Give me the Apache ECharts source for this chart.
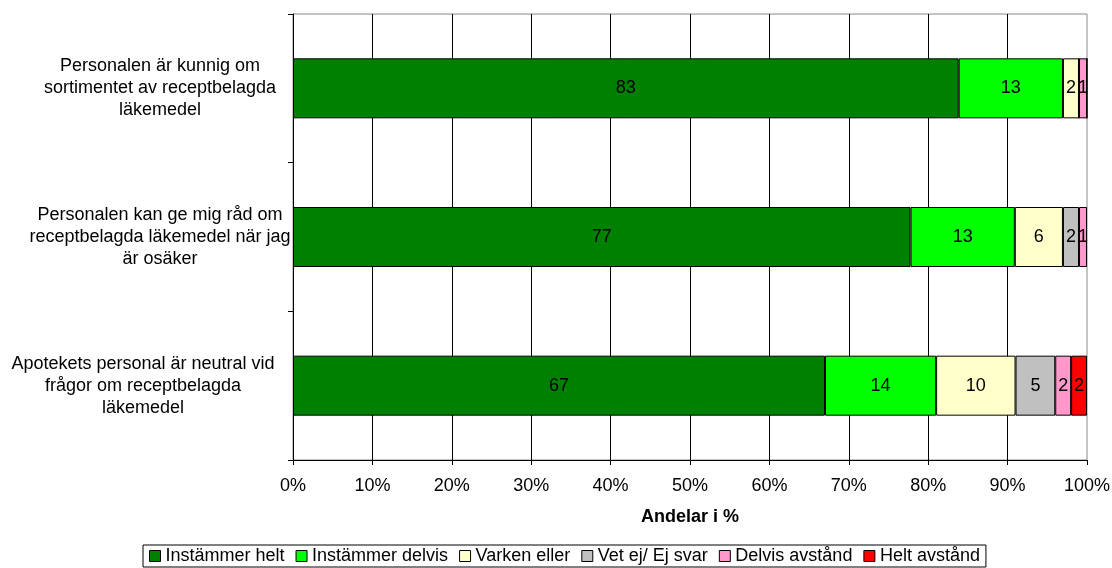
<!DOCTYPE html>
<html>
<head>
<meta charset="utf-8">
<script src="https://cdn.jsdelivr.net/npm/echarts@6/dist/echarts.min.js"></script>
<style>html,body{margin:0;padding:0;background:#fff;}#c{width:1112px;height:568px;}</style>
</head>
<body>
<div id="c"></div>
<script>
const categories = [
  "Personalen är kunnig om\nsortimentet av receptbelagda\nläkemedel",
  "Personalen kan ge mig råd om\nreceptbelagda läkemedel när jag\när osäker",
  "Apotekets personal är neutral vid\nfrågor om receptbelagda\nläkemedel"
];
const seriesNames = ["Instämmer helt", "Instämmer delvis", "Varken eller", "Vet ej/ Ej svar", "Delvis avstånd", "Helt avstånd"];
const instammerHelt = [83, 77, 67];
const instammerDelvis = [13, 13, 14];
const varkenEller = [2, 6, 10];
const vetEj = [0, 2, 5];
const delvisAvstand = [1, 1, 2];
const heltAvstand = [0, 0, 2];
const tickLabels = ["0%","10%","20%","30%","40%","50%","60%","70%","80%","90%","100%"];
const colors = ["#008000", "#00FF00", "#FFFFCC", "#C0C0C0", "#FF99CC", "#FF0000"];

const raw = [instammerHelt, instammerDelvis, varkenEller, vetEj, delvisAvstand, heltAvstand];
const totals = categories.map((_, i) => raw.reduce((s, arr) => s + arr[i], 0));

const font = "Liberation Sans, Arial, sans-serif";
const series = raw.map((arr, k) => ({
  name: seriesNames[k],
  type: 'bar',
  stack: 'total',
  barWidth: 60,
  itemStyle: { color: colors[k], borderColor: '#000', borderWidth: 1 },
  label: {
    show: true, position: 'inside', color: '#000', fontSize: 18, fontFamily: font,
    formatter: p => p.data.raw ? String(p.data.raw) : ''
  },
  emphasis: { disabled: true },
  data: arr.map((v, i) => ({ value: v / totals[i] * 100, raw: v }))
}));

// style key per category label (the last one is shifted left so it clears the axis)
const catStyles = ['n', 'n', 's'];

const chart = echarts.init(document.getElementById('c'), null, { renderer: 'canvas' });
chart.setOption({
  animation: false,
  backgroundColor: '#fff',
  grid: { left: 293, right: 25, top: 14, bottom: 108, containLabel: false, outerBoundsMode: 'none',
    show: true, borderColor: '#888', borderWidth: 1, backgroundColor: 'transparent' },
  xAxis: {
    type: 'value', min: 0, max: 100, interval: 10,
    axisLine: { show: true, lineStyle: { color: '#000', width: 1 } },
    axisTick: { show: true, length: 5, lineStyle: { color: '#000' } },
    splitLine: { show: true, showMaxLine: false, lineStyle: { color: '#000', width: 1 } },
    axisLabel: { color: '#000', fontSize: 18, fontFamily: font, margin: 17,
      formatter: v => tickLabels[Math.round(v / 10)] },
    name: 'Andelar i %', nameLocation: 'middle', nameGap: 48,
    nameTextStyle: { color: '#000', fontSize: 18, fontWeight: 'bold', fontFamily: font }
  },
  yAxis: {
    type: 'category', inverse: true,
    data: categories,
    axisLine: { show: true, lineStyle: { color: '#000', width: 1 } },
    axisTick: { show: true, length: 5, lineStyle: { color: '#000' } },
    axisLabel: {
      color: '#000', fontSize: 18, fontFamily: font, align: 'center', margin: 133, lineHeight: 22,
      formatter: (v, i) => v.split('\n').map(l => '{' + catStyles[i] + '|' + l + '}').join('\n'),
      rich: {
        n: { color: '#000', fontSize: 18, fontFamily: font, lineHeight: 22, align: 'center' },
        s: { color: '#000', fontSize: 18, fontFamily: font, lineHeight: 22, align: 'center', padding: [0, 34, 0, 0] }
      }
    }
  },
  legend: {
    data: seriesNames, left: 143, top: 545,
    icon: 'rect', itemWidth: 11, itemHeight: 11, itemGap: 11,
    borderColor: '#000', borderWidth: 1, padding: [2, 6, 2, 6],
    textStyle: { color: '#000', fontSize: 18, fontFamily: font },
    itemStyle: { borderColor: '#000', borderWidth: 1 }
  },
  series: series
});
</script>
</body>
</html>
